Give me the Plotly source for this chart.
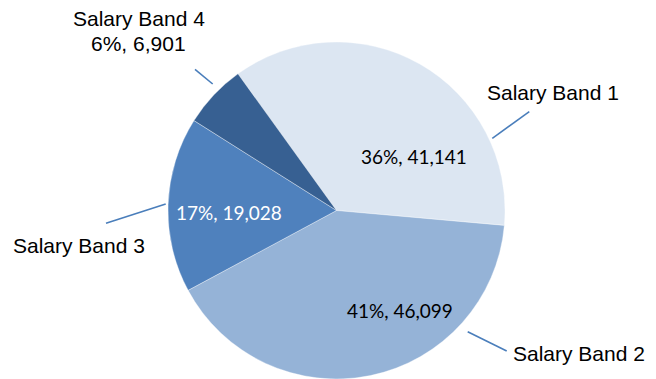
import plotly.graph_objects as go

# ---- data ----
labels = ["Salary Band 1", "Salary Band 2", "Salary Band 3", "Salary Band 4"]
values = [41141, 46099, 19028, 6901]
colors = ["#DCE6F2", "#95B3D7", "#4F81BD", "#376092"]

W, H = 656, 379
total = sum(values)
pct = [round(v / total * 100) for v in values]
value_text = [f"{p}%, {v:,}" for p, v in zip(pct, values)]

def px(x):
    return x / W

def py(y):
    return 1 - y / H

fig = go.Figure(go.Pie(
    labels=labels,
    values=values,
    sort=False,
    direction="clockwise",
    rotation=-35.8,
    marker=dict(colors=colors, line=dict(color="rgba(255,255,255,0.6)", width=0.6)),
    textinfo="none",
    hoverinfo="label+value+percent",
    domain=dict(x=[px(168), px(505)], y=[py(379), py(42)]),
    showlegend=False,
))

name_font = dict(family="Liberation Sans, Arial, sans-serif", size=21, color="#000000")
val_font = dict(family="Lato, Calibri, sans-serif", size=19, color="#000000")

# inside value labels (positions in pixels)
inside_pos = {0: (413.5, 157), 1: (400, 310), 2: (229, 212)}
ann = []
for i, (x, y) in inside_pos.items():
    f = dict(val_font)
    if i == 2:
        f["color"] = "#FFFFFF"
    ann.append(dict(x=px(x), y=py(y), xref="paper", yref="paper", text=value_text[i],
                    showarrow=False, font=f, xanchor="center", yanchor="middle"))

# outside name labels
name_pos = {0: (552.5, 92.5), 1: (579, 353), 2: (79, 245)}
for i, (x, y) in name_pos.items():
    ann.append(dict(x=px(x), y=py(y), xref="paper", yref="paper", text=labels[i],
                    showarrow=False, font=name_font, xanchor="center", yanchor="middle"))

# band 4: name + value outside
ann.append(dict(x=px(139), y=py(18.5), xref="paper", yref="paper", text=labels[3],
                showarrow=False, font=name_font, xanchor="center", yanchor="middle"))
ann.append(dict(x=px(138), y=py(43), xref="paper", yref="paper", text=value_text[3],
                showarrow=False, font=name_font, xanchor="center", yanchor="middle"))

# leader lines
leaders = [
    ((195, 69.3), (212.7, 84)),
    ((492.3, 138.3), (529.3, 111.7)),
    ((106, 223.3), (165.7, 204)),
    ((467.7, 331.7), (506.7, 351)),
]
shapes = []
for (x0, y0), (x1, y1) in leaders:
    shapes.append(dict(type="line", xref="paper", yref="paper",
                       x0=px(x0), y0=py(y0), x1=px(x1), y1=py(y1),
                       line=dict(color="#4A7EBB", width=1.6)))

fig.update_layout(
    width=W, height=H,
    margin=dict(l=0, r=0, t=0, b=0),
    paper_bgcolor="white",
    plot_bgcolor="white",
    annotations=ann,
    shapes=shapes,
)

fig.write_html(
    "out.html",
    config={"displayModeBar": False},
    post_script="document.body.style.margin='0';document.body.style.padding='0';document.body.style.overflow='hidden';",
)
